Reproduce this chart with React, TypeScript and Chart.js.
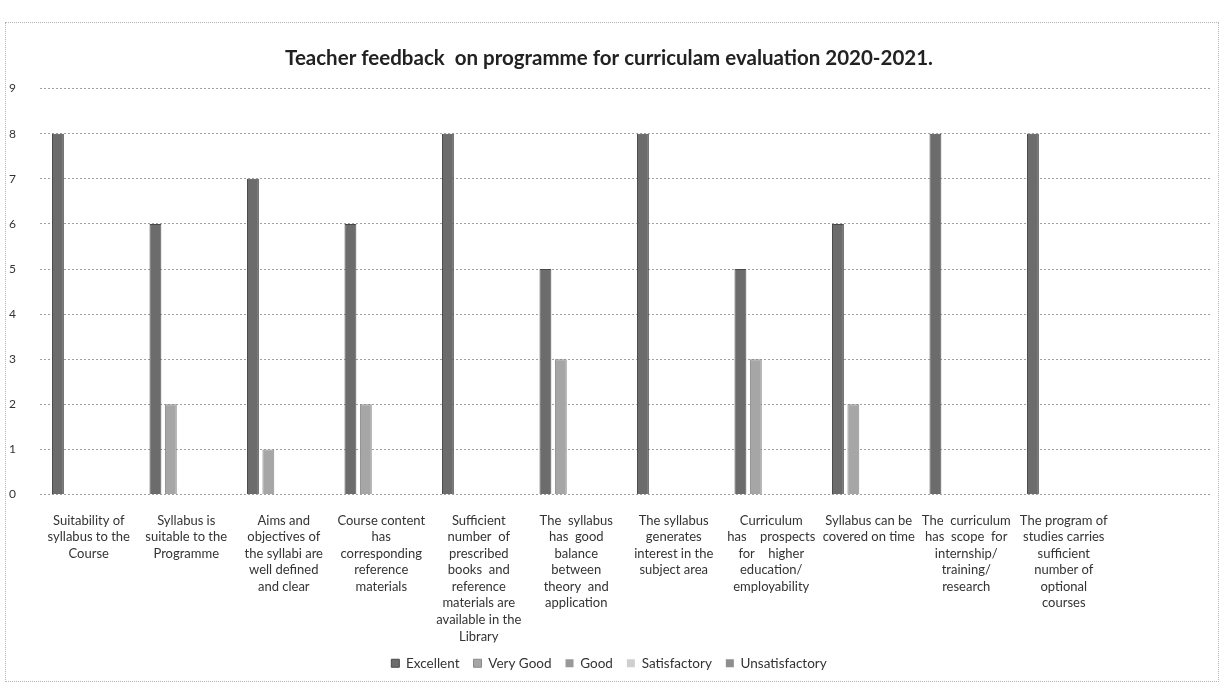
import { useEffect, useRef } from "react";
import { Chart, registerables } from "chart.js";

Chart.register(...registerables);

const titleText = "Teacher feedback  on programme for curriculam evaluation 2020-2021.";

const categories: (string | string[])[] = [
  ["Suitability of", "syllabus to the", "Course"],
  ["Syllabus is", "suitable to the", "Programme"],
  ["Aims and", "objectives of", "the syllabi are", "well defined", "and clear"],
  ["Course content", "has", "corresponding", "reference", "materials"],
  ["Sufficient", "number  of", "prescribed", "books  and", "reference", "materials are", "available in the", "Library"],
  ["The  syllabus", "has  good", "balance", "between", "theory  and", "application"],
  ["The syllabus", "generates", "interest in the", "subject area"],
  ["Curriculum", "has    prospects", "for    higher", "education/", "employability"],
  ["Syllabus can be", "covered on time"],
  ["The  curriculum", "has  scope  for", "internship/", "training/", "research"],
  ["The program of", "studies carries", "sufficient", "number of", "optional", "courses"],
  "",
];

const seriesNames = ["Excellent", "Very Good", "Good", "Satisfactory", "Unsatisfactory"];

const excellent = [8, 6, 7, 6, 8, 5, 8, 5, 6, 8, 8, null];
const veryGood = [0, 2, 1, 2, 0, 3, 0, 3, 2, 0, 0, null];
const good = [0, 0, 0, 0, 0, 0, 0, 0, 0, 0, 0, null];
const satisfactory = [0, 0, 0, 0, 0, 0, 0, 0, 0, 0, 0, null];
const unsatisfactory = [0, 0, 0, 0, 0, 0, 0, 0, 0, 0, 0, null];

const yMin = 0;
const yMax = 9;
const yStep = 1;

const seriesColors = ["#6c6c6c", "#a6a6a6", "#999999", "#cfcfcf", "#8e8e8e"];
const seriesBorders = ["#4a4a4a", "#8a8a8a", "#808080", "#b0b0b0", "#707070"];

const FONT = "Lato, 'Open Sans', 'DejaVu Sans', sans-serif";

export default function App() {
  const canvasRef = useRef<HTMLCanvasElement | null>(null);

  useEffect(() => {
    document.body.style.margin = "0";
    const canvas = canvasRef.current;
    if (!canvas) return;
    const allSeries = [excellent, veryGood, good, satisfactory, unsatisfactory];
    const chart = new Chart(canvas, {
      type: "bar",
      data: {
        labels: categories,
        datasets: allSeries.map((d, i) => ({
          label: seriesNames[i],
          data: d,
          backgroundColor: seriesColors[i],
          borderColor: seriesBorders[i],
          borderWidth: i < 2 ? 1 : 0,
          categoryPercentage: 0.79,
          barPercentage: 0.77,
        })),
      },
      options: {
        responsive: false,
        animation: false,
        maintainAspectRatio: false,
        layout: { padding: { left: 8, right: 19, top: 0, bottom: 18 } },
        plugins: {
          title: {
            display: true,
            text: titleText,
            color: "#222",
            font: { family: FONT, size: 20.5, weight: "bold", lineHeight: 1.2 },
            padding: { top: 46, bottom: 18 },
          },
          legend: {
            display: true,
            position: "bottom",
            labels: {
              color: "#333",
              font: { family: FONT, size: 13.5 },
              boxWidth: 8,
              boxHeight: 8,
              padding: 14,
            },
          },
          tooltip: { enabled: false },
        },
        scales: {
          x: {
            grid: { display: false },
            border: { display: false },
            ticks: {
              autoSkip: false,
              maxRotation: 0,
              minRotation: 0,
              padding: 10,
              color: "#333",
              font: { family: FONT, size: 13, lineHeight: 1.27 },
            },
            afterFit: (scale: any) => {
              scale.height = 148;
            },
          },
          y: {
            min: yMin,
            max: yMax,
            ticks: {
              stepSize: yStep,
              padding: 24,
              color: "#333",
              font: { family: FONT, size: 12 },
            },
            grid: {
              color: "#a0a0a0",
              lineWidth: 1,
              drawTicks: false,
            },
            border: { display: false, dash: [2, 2] },
            afterFit: (scale: any) => {
              scale.width = 32;
            },
          },
        },
      },
    } as any);
    return () => chart.destroy();
  }, []);

  return (
    <div style={{ position: "relative", width: 1229, height: 698, background: "#fff" }}>
      <div
        style={{
          position: "absolute",
          left: 5,
          top: 22,
          width: 1214,
          height: 660,
          border: "1px dotted #b5b5b5",
          boxSizing: "border-box",
        }}
      />
      <canvas ref={canvasRef} width={1229} height={698} style={{ position: "absolute", left: 0, top: 0, display: "block" }} />
    </div>
  );
}
